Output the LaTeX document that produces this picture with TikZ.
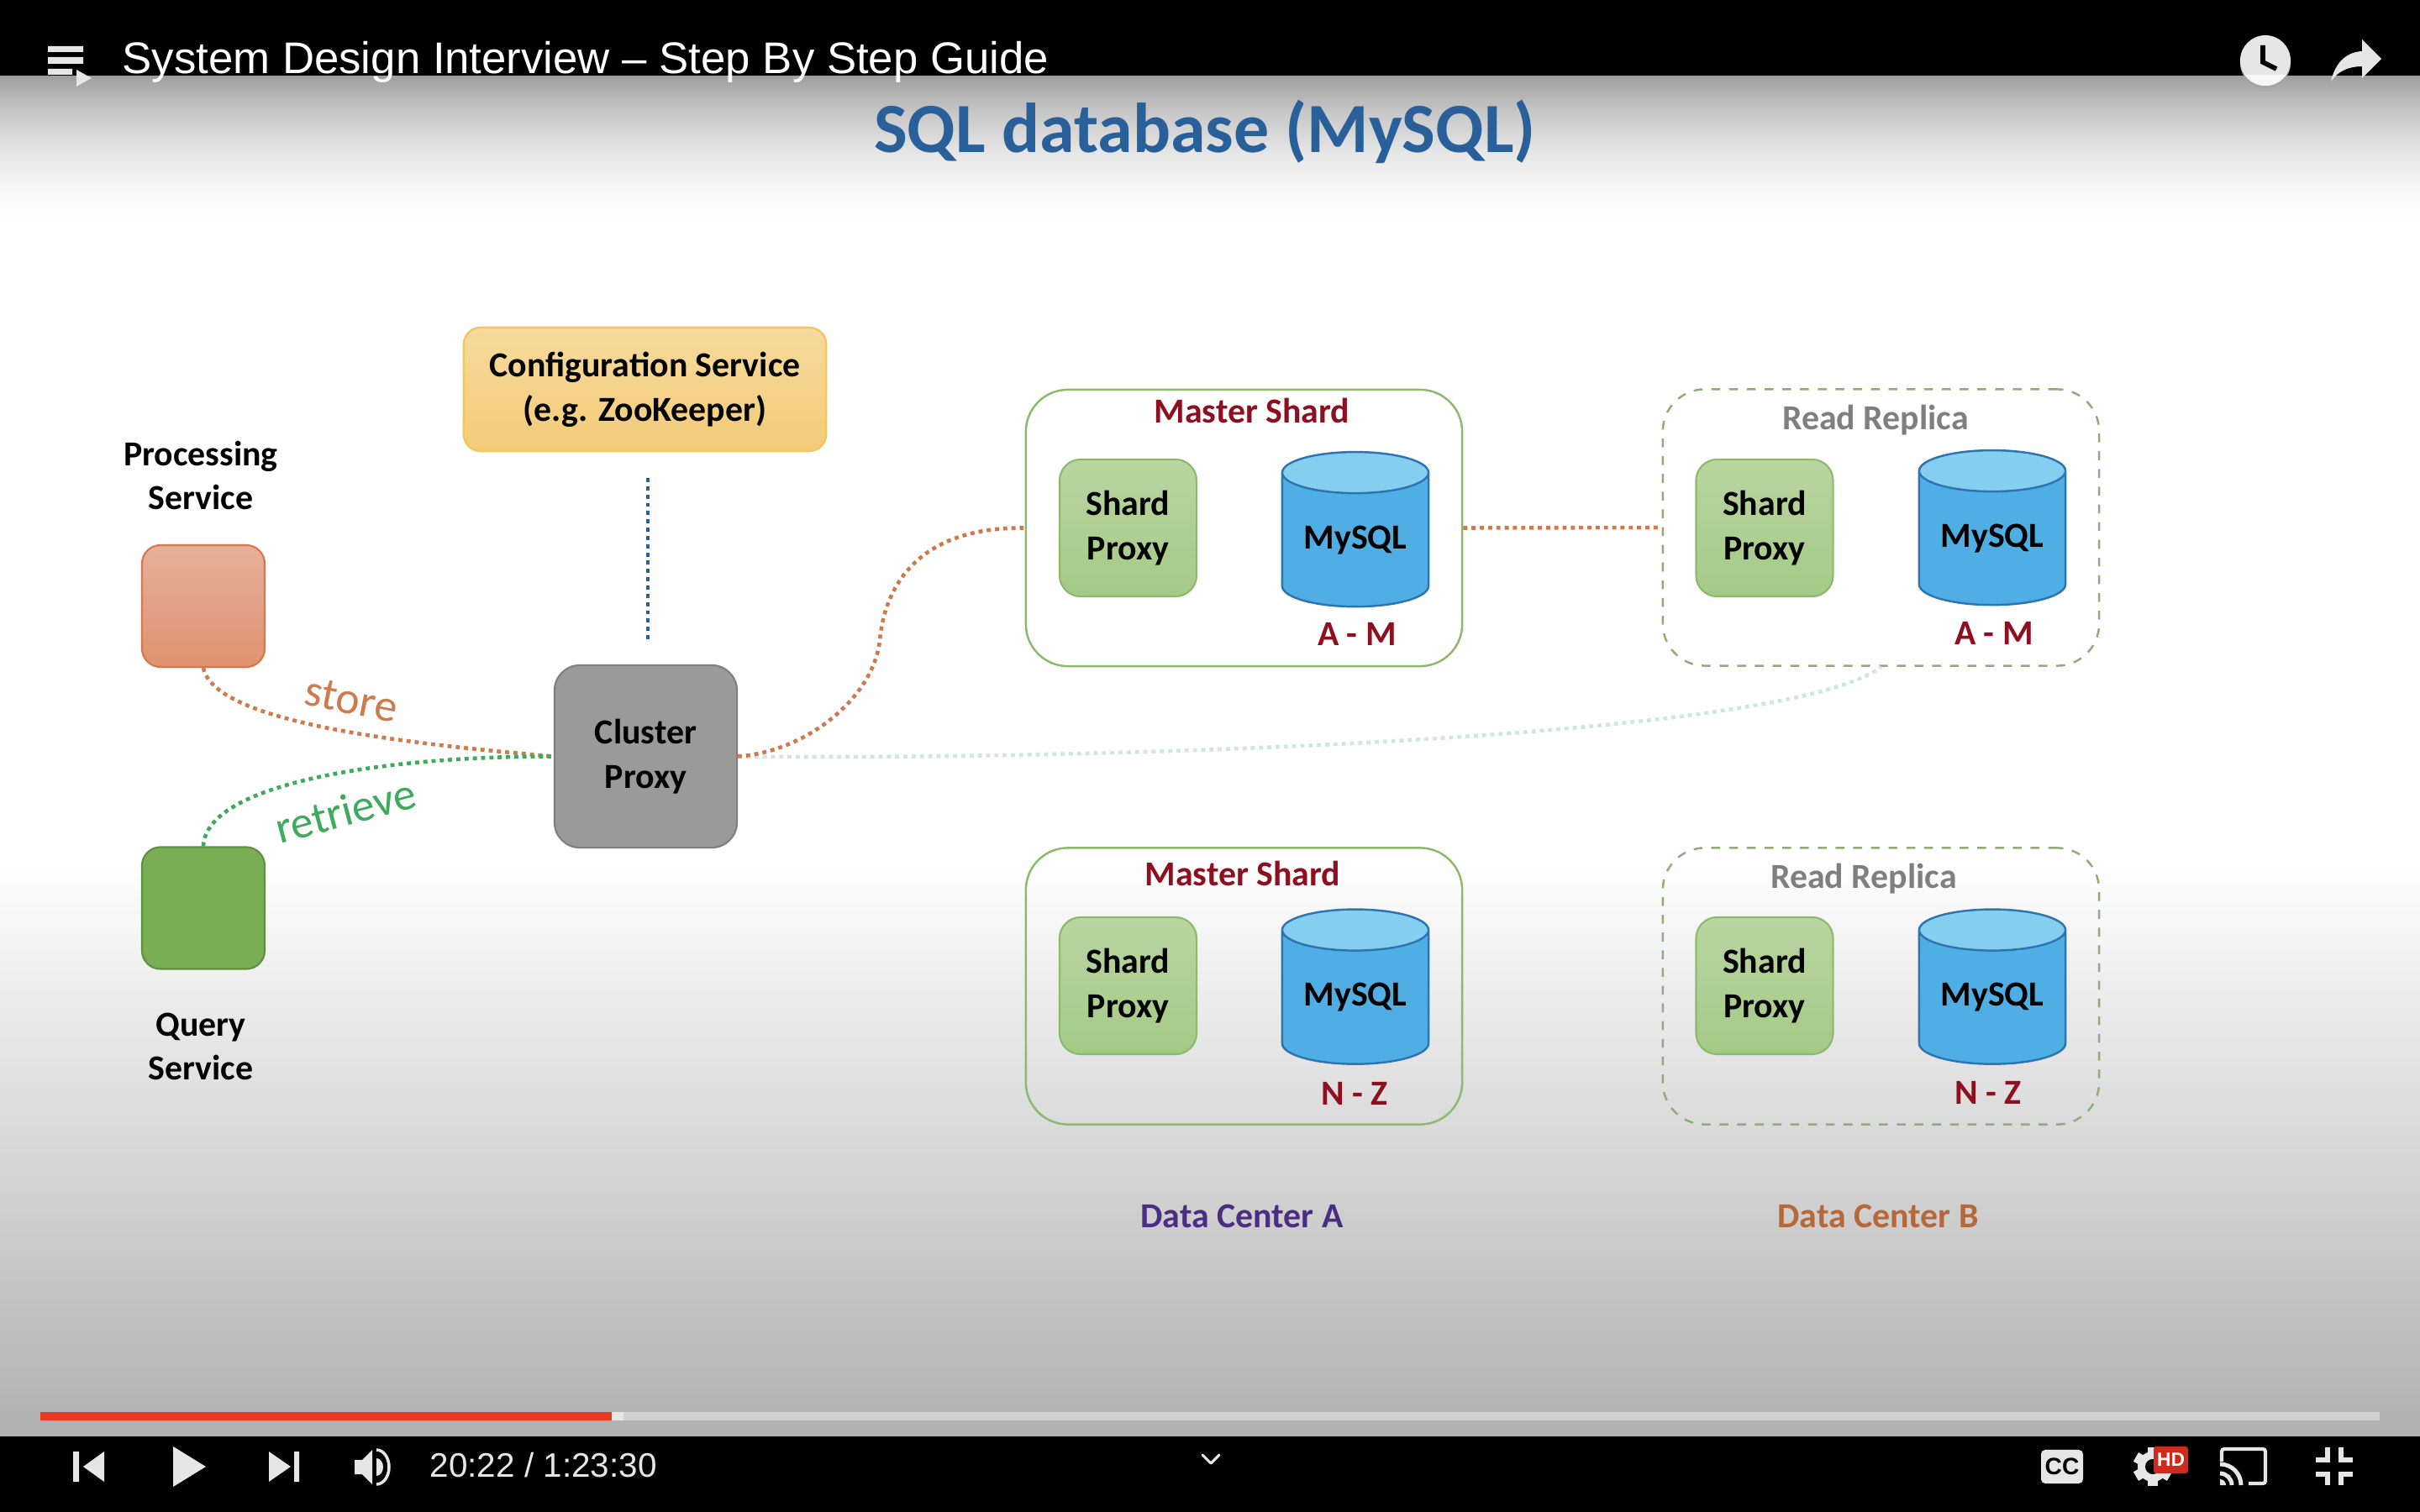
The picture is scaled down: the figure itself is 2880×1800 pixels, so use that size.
\documentclass[tikz,border=0pt]{standalone}
\usepackage{fontspec}
\setmainfont{Carlito}
\newfontfamily\uifont{Liberation Sans}
\usetikzlibrary{shapes.geometric,arrows.meta,positioning,calc}
\definecolor{titleblue}{HTML}{2A6099}
\definecolor{darkred}{HTML}{8E1020}
\definecolor{replicagrey}{HTML}{7F7F7F}
\definecolor{storeorange}{HTML}{CC7A4E}
\definecolor{retrievegreen}{HTML}{3DAA5C}
\definecolor{uiwhite}{HTML}{E6E6E6}
\definecolor{shardedge}{HTML}{8DB96C}
\definecolor{shardtop}{HTML}{B9D5A1}
\definecolor{shardbot}{HTML}{A4CA86}
\definecolor{replicaedge}{HTML}{93AB78}
\definecolor{dbedge}{HTML}{2E75B0}
\definecolor{dbbody}{HTML}{4FAEE3}
\definecolor{dbtop}{HTML}{84CFF0}
\definecolor{procedge}{HTML}{D9774C}
\definecolor{proctop}{HTML}{E6B09A}
\definecolor{procbot}{HTML}{E0916F}
\definecolor{queryedge}{HTML}{5F8F40}
\definecolor{queryfill}{HTML}{7AAE52}
\definecolor{clusteredge}{HTML}{7F7F7F}
\definecolor{clusterfill}{HTML}{9A9A9A}
\definecolor{confedge}{HTML}{F2C85B}
\definecolor{conftop}{HTML}{F6DA9C}
\definecolor{confbot}{HTML}{F4CB78}
\definecolor{dcpurple}{HTML}{4B2E83}
\definecolor{dcbrown}{HTML}{B5693A}
\definecolor{palelink}{HTML}{CFE7DF}
\definecolor{barred}{HTML}{EC3820}
\definecolor{hdred}{HTML}{CF2A1C}
\pgfdeclareverticalshading{topfade}{100bp}{color(0bp)=(white); color(25bp)=(white); color(36.35bp)=(black!2); color(50.5bp)=(black!10); color(63.4bp)=(black!22); color(75bp)=(black!38); color(100bp)=(black!38)}
\newcommand{\labelfont}{\bfseries\fontsize{11.9}{15}\selectfont}
\tikzset{
  svcbox/.style={draw, line width=0.6pt, rounded corners=0.22cm, minimum width=1.46cm, minimum height=1.45cm, inner sep=0pt},
  proxybox/.style={draw=shardedge, line width=0.6pt, top color=shardtop, bottom color=shardbot, rounded corners=0.25cm, minimum width=1.63cm, minimum height=1.63cm, inner sep=0pt, align=center, font=\labelfont},
  mastergroup/.style={draw=shardedge, line width=0.7pt, rounded corners=0.5cm, minimum width=5.19cm, minimum height=3.29cm, inner sep=0pt},
  replicagroup/.style={mastergroup, draw=replicaedge, dashed},
  dbnode/.style={cylinder, shape border rotate=90, aspect=0.4, draw=dbedge, line width=0.7pt, cylinder uses custom fill, cylinder body fill=dbbody, cylinder end fill=dbtop, minimum width=1.74cm, minimum height=1.84cm, inner sep=0pt, font=\labelfont},
  plain/.style={inner sep=0pt, align=center, font=\labelfont},
  link/.style={line width=1.3pt, dash pattern=on 1.4pt off 1.4pt},
}
\begin{document}
\begin{tikzpicture}[x=0.01cm, y=-0.01cm]
  \useasboundingbox (0,0) rectangle (2880,1800);
  % page background
  \fill[white] (0,0) rectangle (2880,1800);
  \shade[shading=topfade] (0,90) rectangle (2880,275);
  \fill[top color=white, bottom color=black!31] (0,1020) rectangle (2880,1710);
  \fill[black] (0,0) rectangle (2880,90);
  \fill[black] (0,1710) rectangle (2880,1800);

  % title
  \node[inner sep=0pt, text=titleblue, font=\bfseries\fontsize{23.9}{28}\selectfont] (heading) at (1434,157) {SQL database (MySQL)};

  % services on the left
  \node[svcbox, draw=procedge, top color=proctop, bottom color=procbot] (procsvc) at (242,721.5) {};
  \node[svcbox, draw=queryedge, fill=queryfill] (querysvc) at (242,1081) {};
  \node[plain] (proclabel) at (239,566) {Processing\\Service};
  \node[plain] (querylabel) at (239,1246) {Query\\Service};
  \node[svcbox, draw=clusteredge, fill=clusterfill, rounded corners=0.3cm, minimum width=2.17cm, minimum height=2.17cm, align=center, font=\labelfont] (cluster) at (768.5,900.5) {Cluster\\Proxy};
  \node[draw=confedge, line width=0.7pt, top color=conftop, bottom color=confbot, rounded corners=0.2cm, minimum width=4.31cm, minimum height=1.47cm, inner sep=0pt, align=center, font=\labelfont] (config) at (767.5,463.5) {Configuration Service\\(e.g. ZooKeeper)};
  \coordinate (cfgtop) at (771,569);
  \coordinate (cfgbot) at (771,763);

  % data center A
  \node[mastergroup] (masterA) at (1480.5,628.5) {};
  \node[plain, text=darkred] (masterAlabel) at (1490,489) {Master Shard};
  \node[proxybox] (proxyA) at (1342.5,628.5) {Shard\\Proxy};
  \node[dbnode] (dbA) at (1613,643) {MySQL};
  \node[plain, text=darkred] (rangeA) at (1615,755) {A - M};

  \node[mastergroup] (masterN) at (1480.5,1174) {};
  \node[plain, text=darkred] (masterNlabel) at (1479,1040) {Master Shard};
  \node[proxybox] (proxyN) at (1342.5,1173.5) {Shard\\Proxy};
  \node[dbnode] (dbN) at (1613,1187.5) {MySQL};
  \node[plain, text=darkred] (rangeN) at (1612,1302) {N - Z};

  % data center B
  \node[replicagroup] (replicaA) at (2238.5,628) {};
  \node[plain, text=replicagrey] (replicaAlabel) at (2232,500) {Read Replica};
  \node[proxybox] (proxyB) at (2100,628.5) {Shard\\Proxy};
  \node[dbnode] (dbB) at (2371,641) {MySQL};
  \node[plain, text=darkred] (rangeB) at (2373,754) {A - M};

  \node[replicagroup] (replicaN) at (2238.5,1174) {};
  \node[plain, text=replicagrey] (replicaNlabel) at (2218,1046) {Read Replica};
  \node[proxybox] (proxyZ) at (2100,1173.5) {Shard\\Proxy};
  \node[dbnode] (dbZ) at (2371,1187.5) {MySQL};
  \node[plain, text=darkred] (rangeZ) at (2366,1301) {N - Z};

  \node[plain, text=dcpurple] (dcA) at (1478,1448) {Data Center A};
  \node[plain, text=dcbrown] (dcB) at (2235,1448) {Data Center B};

  % connectors
  \coordinate (sbend) at (1047,762);
  \draw[link, color=titleblue] (cfgtop) -- (cfgbot);
  \draw[link, color=storeorange] (procsvc.south) .. controls (255,860) and (480,885) .. (cluster.west);
  \draw[link, color=retrievegreen] (querysvc.north) .. controls (245,930) and (470,900) .. (cluster.west);
  \draw[link, color=palelink] (cluster.east) .. controls (1300,905) and (2130,880) .. (replicaA.south);
  \draw[link, color=storeorange] (cluster.east) .. controls (960,895) and (1040,830) .. (sbend) .. controls (1054,690) and (1100,627) .. (masterA.west);
  \draw[link, color=storeorange] (masterA.east) -- (replicaA.west);

  % connector words
  \node[inner sep=0pt, text=storeorange, rotate=-11, font=\fontsize{15.3}{17}\selectfont] (storeword) at (418,833) {store};
  \node[inner sep=0pt, text=retrievegreen, rotate=15, font=\fontsize{15.3}{17}\selectfont] (retrieveword) at (411,965) {retrieve};

  % player, top bar
  \node[anchor=base west, inner sep=0pt, text=white, font=\uifont\fontsize{15}{18}\selectfont] (videotitle) at (145,88) {System Design Interview – Step By Step Guide};
  \fill[uiwhite] (57,55) rectangle (99,62) (57,68) rectangle (99,76) (57,82) rectangle (86,89);
  \fill[uiwhite] (91,83) -- (109,93) -- (91,103) -- cycle;
  \fill[black!35] (2696,75) circle (30);
  \fill[uiwhite] (2696,72) circle (30);
  \begin{scope}
    \clip (2660,90) rectangle (2730,110);
    \fill[black!3] (2696,72) circle (30);
  \end{scope}
  \draw[black, line width=1.6pt] (2693,54) -- (2693,74) -- (2709,82);
  \fill[uiwhite] (2834,70) -- (2811,47) -- (2811,61) .. controls (2790,62) and (2778,78) .. (2774,97) .. controls (2782,85) and (2795,79) .. (2811,79) -- (2811,93) -- cycle;

  % player, progress bar
  \fill[black!18] (742,1681) rectangle (2832,1691);
  \fill[uiwhite] (728,1681) rectangle (742,1691);
  \fill[barred] (48,1681) rectangle (728,1691);

  % player, bottom bar
  \fill[uiwhite] (87,1728) rectangle (94,1764) (124,1728) -- (99,1746) -- (124,1764) -- cycle;
  \fill[uiwhite] (206,1722) -- (245,1746) -- (206,1770) -- cycle;
  \fill[uiwhite] (320,1728) -- (346,1746) -- (320,1764) -- cycle (350,1728) rectangle (356,1764);
  \fill[uiwhite] (422,1738) -- (431,1738) -- (443,1726) -- (443,1767) -- (431,1755) -- (422,1755) -- cycle;
  \fill[uiwhite] (448,1736) arc (-90:90:8 and 10.5) -- cycle;
  \draw[uiwhite, line width=1pt] (448,1726) arc (-90:90:15 and 20.5);
  \node[anchor=base west, inner sep=0pt, text=uiwhite, font=\uifont\fontsize{11.5}{14}\selectfont] (clocktext) at (511,1758) {20:22 / 1:23:30};
  \draw[uiwhite, line width=0.9pt, line cap=round, line join=round] (1431,1732) -- (1441,1742) -- (1451,1732);
  \node[fill=uiwhite, rounded corners=0.05cm, minimum width=0.5cm, minimum height=0.4cm, inner sep=0pt, text=black, font=\uifont\bfseries\fontsize{8}{8}\selectfont] (ccicon) at (2454,1746) {CC};
  \fill[uiwhite] (2562,1746) circle (18);
  \foreach \ang in {0,60,...,300}
    \fill[uiwhite, rotate around={\ang:(2562,1746)}] (2556,1723) rectangle (2568,1769);
  \fill[black] (2562,1746) circle (9);
  \node[fill=hdred, rounded corners=0.03cm, minimum width=0.41cm, minimum height=0.32cm, inner sep=0pt, text=white, font=\uifont\bfseries\fontsize{6.5}{7}\selectfont] (hdbadge) at (2583.5,1738) {HD};
  \draw[uiwhite, line width=1.2pt, rounded corners=0.03cm] (2644,1740) -- (2644,1725) -- (2696,1725) -- (2696,1766) -- (2676,1766);
  \draw[uiwhite, line width=1.4pt] (2642,1743) arc (-90:0:25);
  \draw[uiwhite, line width=1.4pt] (2642,1754) arc (-90:0:14);
  \fill[uiwhite] (2642,1768) -- (2642,1761) arc (-90:0:7) -- cycle;
  \draw[uiwhite, line width=1.5pt] (2756,1738) -- (2770,1738) -- (2770,1723);
  \draw[uiwhite, line width=1.5pt] (2800,1738) -- (2786,1738) -- (2786,1723);
  \draw[uiwhite, line width=1.5pt] (2756,1755) -- (2770,1755) -- (2770,1768);
  \draw[uiwhite, line width=1.5pt] (2800,1755) -- (2786,1755) -- (2786,1768);
\end{tikzpicture}
\end{document}
